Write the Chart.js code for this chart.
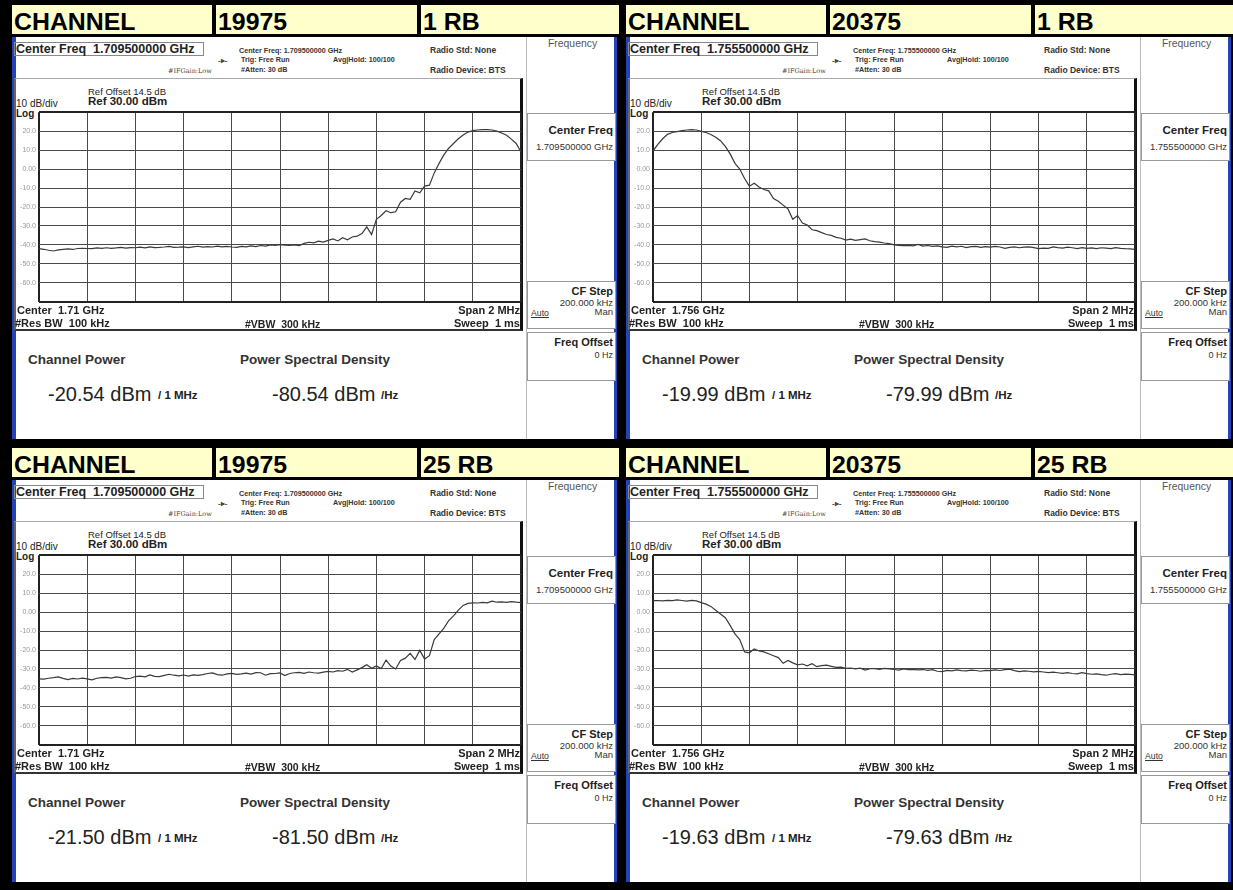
<!DOCTYPE html>
<html>
<head>
<meta charset="utf-8">
<script src="https://cdn.jsdelivr.net/npm/chart.js@4.4.0/dist/chart.umd.min.js"></script>
<style>
  html, body { margin: 0; padding: 0; }
  body { width: 1233px; height: 890px; background: #000; position: relative; overflow: hidden;
         font-family: "Liberation Sans", Arial, sans-serif; color: #222; }
  .quad { position: absolute; width: 620px; height: 447px; }
  .quad div, .quad canvas { position: absolute; }
  .hdr { top: 5px; height: 29px; background: #ffffcc; font: bold 23px "Liberation Sans", Arial, sans-serif;
         line-height: 34px; padding-left: 2px; box-sizing: border-box; color: #000; overflow: hidden; }
  .hdr span { display: inline-block; transform: scaleX(1.08); transform-origin: left center; }
  .screen { left: 12px; top: 37px; width: 605px; height: 402px; background: #fff;
            border-left: 4px solid #2443b8; border-right: 3px solid #2443b8; box-sizing: border-box; }
  .t { white-space: nowrap; line-height: 1; }
  .sm { font: bold 7.2px "Liberation Sans", Arial, sans-serif; color: #333; }
  .rd { font: bold 8.5px "Liberation Sans", Arial, sans-serif; color: #333; }
  .b11 { font: bold 11px "Liberation Sans", Arial, sans-serif; color: #222; }
  .box { border: 1px solid #999; box-sizing: border-box; background: #fff; }
  .rt { right: 2px; text-align: right; }
  .pv { font: 9.5px "Liberation Sans", Arial, sans-serif; color: #333; }
  .lab { font: bold 13.5px "Liberation Sans", Arial, sans-serif; color: #333; }
  .val { font: 20px "Liberation Sans", Arial, sans-serif; color: #222; }
  .unit { font: bold 11.5px "Liberation Sans", Arial, sans-serif; color: #222; }
</style>
</head>
<body>
<script>
const channels     = ["19975", "20375", "19975", "20375"];
const rbLabels     = ["1 RB", "1 RB", "25 RB", "25 RB"];
const centerFreqs  = ["1.709500000 GHz", "1.755500000 GHz", "1.709500000 GHz", "1.755500000 GHz"];
const centerShort  = ["1.71 GHz", "1.756 GHz", "1.71 GHz", "1.756 GHz"];
const chanPower    = ["-20.54", "-19.99", "-21.50", "-19.63"];
const psdValues    = ["-80.54", "-79.99", "-81.50", "-79.63"];
const yTicks       = [30, 20, 10, 0, -10, -20, -30, -40, -50, -60, -70];

const trace19975_1rb = [
  -42.0, -42.3, -42.8, -43.2, -42.6, -42.3, -42.1, -42.4, -41.9, -41.8,
  -41.9, -42.0, -41.6, -41.8, -41.5, -41.8, -41.6, -41.3, -41.7, -41.4,
  -41.5, -41.2, -41.6, -41.0, -41.4, -41.3, -41.1, -40.8, -41.3, -41.2,
  -41.0, -41.4, -41.0, -40.7, -41.2, -40.9, -41.1, -40.6, -41.0, -40.8,
  -41.1, -41.3, -40.8, -41.0, -40.5, -40.9, -40.3, -40.6, -40.0, -40.2,
  -39.9, -40.1, -40.3, -40.0, -40.4, -39.2, -38.6, -38.9, -38.0, -38.5,
  -37.6, -36.8, -37.9, -36.2, -37.3, -35.8, -35.4, -34.0, -30.5, -34.5,
  -26.5, -24.5, -22.0, -23.0, -22.5, -17.5, -15.5, -16.0, -11.5, -12.5,
  -9.0, -8.5, -2.0, 3.0, 7.5, 11.0, 13.5, 16.0, 18.0, 19.5,
  20.3, 20.6, 20.8, 20.8, 20.6, 20.0, 19.0, 17.8, 15.8, 13.5,
  9.0
];
const trace20375_1rb = [
  9.5, 13.0, 16.0, 18.3, 19.3, 19.8, 20.3, 20.6, 20.8, 20.6,
  19.9, 19.3, 18.2, 16.8, 15.0, 12.0, 8.0, 3.0, 0.0, -5.0,
  -9.0, -7.5, -9.5, -10.8, -11.5, -15.5, -17.0, -19.0, -21.0, -26.5,
  -24.5, -28.5, -29.5, -32.0, -32.5, -33.5, -34.5, -35.0, -36.0, -36.5,
  -37.5, -37.0, -37.6, -37.2, -36.8, -37.8, -38.3, -38.5, -39.0, -39.3,
  -40.0, -40.2, -40.4, -40.2, -40.5, -39.7, -40.6, -40.3, -40.8, -40.5,
  -41.0, -41.3, -40.6, -41.0, -40.7, -41.4, -40.9, -40.8, -41.3, -40.9,
  -41.2, -40.8, -41.1, -41.8, -41.3, -41.0, -41.5, -41.2, -41.0, -41.4,
  -41.9, -41.7, -41.8, -41.0, -41.4, -41.7, -41.2, -41.5, -41.9, -41.4,
  -41.8, -41.6, -42.0, -41.5, -41.7, -41.9, -41.4, -41.8, -42.0, -42.1,
  -42.3
];
const trace19975_25rb = [
  -35.2, -35.4, -34.9, -34.6, -34.2, -35.0, -35.6, -35.0, -35.3, -34.8,
  -35.2, -35.7, -34.9, -34.6, -34.4, -34.8, -34.2, -34.6, -35.2, -34.9,
  -34.0, -33.8, -34.2, -33.1, -33.9, -34.0, -33.4, -32.8, -33.3, -33.6,
  -33.2, -33.8, -33.1, -33.4, -33.0, -32.4, -32.1, -33.0, -33.3, -32.6,
  -32.3, -32.9, -32.6, -32.2, -32.7, -31.9, -32.0, -33.3, -32.5, -32.4,
  -32.1, -33.5, -32.4, -32.0, -31.8, -32.3, -31.6, -32.0, -32.2, -31.7,
  -31.3, -31.6, -30.9, -31.2, -30.2, -31.6, -30.5, -29.3, -27.8, -29.6,
  -28.4, -29.8, -25.3, -28.5, -30.0, -25.5, -24.3, -21.8, -25.0, -20.2,
  -24.8, -23.0, -14.5, -11.5, -8.5, -4.5, -2.0, 1.0, 3.5, 4.6,
  4.9, 4.8, 5.1, 4.9, 5.8, 5.2, 5.4, 5.1, 5.5, 5.2,
  5.0
];
const trace20375_25rb = [
  6.0, 6.1, 5.9, 6.2, 6.0, 6.4, 6.1, 5.8, 6.2, 5.9,
  5.0, 4.2, 3.0, 1.0, -1.0, -3.0, -7.0, -11.5, -14.5, -21.0,
  -21.5, -19.5, -20.5, -21.0, -22.0, -23.0, -24.0, -27.0, -25.5, -26.8,
  -27.8, -27.4, -28.3, -27.2, -28.8, -28.2, -28.0, -28.6, -29.2, -29.0,
  -29.7, -29.5, -29.9, -29.6, -30.6, -29.9, -29.8, -30.2, -29.7, -30.0,
  -30.3, -30.6, -30.0, -30.4, -30.2, -30.5, -30.3, -30.7, -30.4, -31.2,
  -31.4, -30.8, -31.0, -30.5, -30.9, -31.0, -30.6, -30.8, -31.2, -30.7,
  -30.9, -30.5, -30.8, -30.4, -30.1, -30.9, -31.4, -31.0, -31.2, -31.5,
  -31.3, -31.6, -31.9, -31.7, -32.0, -32.3, -31.9, -32.4, -32.6, -31.9,
  -32.5, -32.8, -32.6, -33.0, -33.3, -32.8, -32.5, -33.0, -32.7, -32.9,
  -33.1
];
const traces = [trace19975_1rb, trace20375_1rb, trace19975_25rb, trace20375_25rb];

const quadPos = [[0, 0], [614, 0], [0, 443], [614, 443]];

function creerQuadrant(i) {
  const q = document.createElement("div");
  q.className = "quad";
  q.style.left = quadPos[i][0] + "px";
  q.style.top = quadPos[i][1] + "px";
  q.innerHTML = `
    <div class="hdr" style="left:12px;width:200px"><span>CHANNEL</span></div>
    <div class="hdr" style="left:216px;width:201px"><span>${channels[i]}</span></div>
    <div class="hdr" style="left:421px;width:198px"><span>${rbLabels[i]}</span></div>
    <div class="screen"></div>

    <div class="t" style="left:14px;top:42px;width:190px;height:14px;border:1px solid #888;box-sizing:border-box;font:bold 12.5px 'Liberation Sans',Arial;line-height:13px;padding-left:1px">Center Freq&nbsp; ${centerFreqs[i]}</div>
    <div class="t sm" style="left:239px;top:46px">Center Freq: ${centerFreqs[i]}</div>
    <div class="t sm" style="left:241px;top:55px">Trig: Free Run</div>
    <div class="t sm" style="left:333px;top:55px">Avg|Hold: 100/100</div>
    <div class="t sm" style="left:241px;top:65px">#Atten: 30 dB</div>
    <div class="t" style="left:168px;top:67px;font:6.5px 'DejaVu Serif',serif;color:#444">#IFGain:Low</div>
    <div class="t" style="left:218px;top:56px;font:bold 8px 'Liberation Sans';color:#444">-▸-</div>
    <div class="t rd" style="left:430px;top:45px">Radio Std: None</div>
    <div class="t rd" style="left:430px;top:65px">Radio Device: BTS</div>
    <div class="t" style="left:548px;top:38px;font:10.4px 'Liberation Sans';color:#555">Frequency</div>

    <div style="left:14px;top:78px;width:509px;height:253px;border-top:1px solid #aaa;border-left:2px solid #666;border-bottom:2px solid #333;border-right:3px solid #111;box-sizing:border-box"></div>
    <div class="t" style="left:88px;top:86px;font:9.5px 'Liberation Sans';color:#222">Ref Offset 14.5 dB</div>
    <div class="t" style="left:88px;top:95px;font:bold 11.5px 'Liberation Sans';color:#222">Ref 30.00 dBm</div>
    <div class="t" style="left:16px;top:98px;font:10px 'Liberation Sans';color:#222">10 dB/div</div>
    <div class="t" style="left:16px;top:108px;font:bold 10px 'Liberation Sans';color:#222">Log</div>
    <canvas id="plot${i}" width="512" height="204" style="left:14px;top:105px"></canvas>

    <div class="t b11" style="left:17px;top:304px">Center&nbsp; ${centerShort[i]}</div>
    <div class="t b11" style="left:400px;width:120px;text-align:right;top:304px">Span 2 MHz</div>
    <div class="t b11" style="left:15px;top:317px">#Res BW&nbsp; 100 kHz</div>
    <div class="t" style="left:245px;top:318px;font:bold 10.5px 'Liberation Sans'">#VBW&nbsp; 300 kHz</div>
    <div class="t b11" style="left:400px;width:120px;text-align:right;top:317px">Sweep&nbsp; 1 ms</div>

    <div style="left:526px;top:37px;width:1px;height:402px;background:#bbb"></div>
    <div class="box" style="left:527px;top:113px;width:89px;height:48px">
      <div class="t rt" style="top:10px;font:bold 11.5px 'Liberation Sans'">Center Freq</div>
      <div class="t rt pv" style="top:27px">${centerFreqs[i]}</div>
    </div>
    <div class="box" style="left:527px;top:281px;width:89px;height:48px">
      <div class="t rt b11" style="top:3px">CF Step</div>
      <div class="t rt pv" style="top:15px">200.000 kHz</div>
      <div class="t" style="left:3px;top:26px;font:8.7px 'Liberation Sans';color:#333;text-decoration:underline">Auto</div>
      <div class="t rt pv" style="top:24px">Man</div>
    </div>
    <div class="box" style="left:527px;top:332px;width:89px;height:49px">
      <div class="t rt b11" style="top:3px">Freq Offset</div>
      <div class="t rt" style="top:17px;font:9px 'Liberation Sans';color:#333">0 Hz</div>
    </div>

    <div class="t lab" style="left:28px;top:352px">Channel Power</div>
    <div class="t lab" style="left:240px;top:352px">Power Spectral Density</div>
    <div class="t val" style="left:48px;top:383px">${chanPower[i]} dBm</div>
    <div class="t unit" style="left:158px;top:389px">/ 1 MHz</div>
    <div class="t val" style="left:272px;top:383px">${psdValues[i]} dBm</div>
    <div class="t unit" style="left:381px;top:389px">/Hz</div>
  `;
  document.body.appendChild(q);
  dessinerTrace(document.getElementById("plot" + i), traces[i]);
}

// grille 10 x 10 et trace de l'analyseur
function dessinerTrace(canvas, valeurs) {
  const bord = (ctx, n) => (ctx.index === 0 || ctx.index === n) ? 2 : 1;
  const couleurBord = (ctx, n) => (ctx.index === 0 || ctx.index === n) ? "#222" : "#4a4a4a";
  new Chart(canvas, {
    type: "line",
    data: {
      datasets: [{
        data: valeurs.map((v, k) => ({ x: k, y: v })),
        borderColor: "#3a3a3a",
        borderWidth: 1.2,
        pointRadius: 0,
        tension: 0,
        fill: false
      }]
    },
    options: {
      responsive: false,
      animation: false,
      devicePixelRatio: 1,
      layout: { padding: { top: 5, right: 5, bottom: 5, left: 0 } },
      plugins: { legend: { display: false }, tooltip: { enabled: false } },
      scales: {
        x: {
          type: "linear", min: 0, max: 100,
          ticks: { display: false, stepSize: 10 },
          grid: { color: ctx => couleurBord(ctx, 10), lineWidth: ctx => bord(ctx, 10), drawTicks: false },
          border: { display: false },
          afterFit: s => { s.height = 0; }
        },
        y: {
          min: yTicks[yTicks.length - 1], max: yTicks[0],
          afterBuildTicks: s => { s.ticks = yTicks.map(v => ({ value: v })); },
          ticks: {
            padding: 3,
            color: "#999",
            font: { family: "Liberation Sans", size: 7 },
            callback: v => (v === 30 || v === -70) ? "" : (v === 0 ? "0.00" : v.toFixed(1))
          },
          grid: { color: ctx => couleurBord(ctx, 10), lineWidth: ctx => bord(ctx, 10), drawTicks: false },
          border: { display: false },
          afterFit: s => { s.width = 25; }
        }
      }
    }
  });
}

for (let i = 0; i < 4; i++) creerQuadrant(i);
</script>
</body>
</html>
